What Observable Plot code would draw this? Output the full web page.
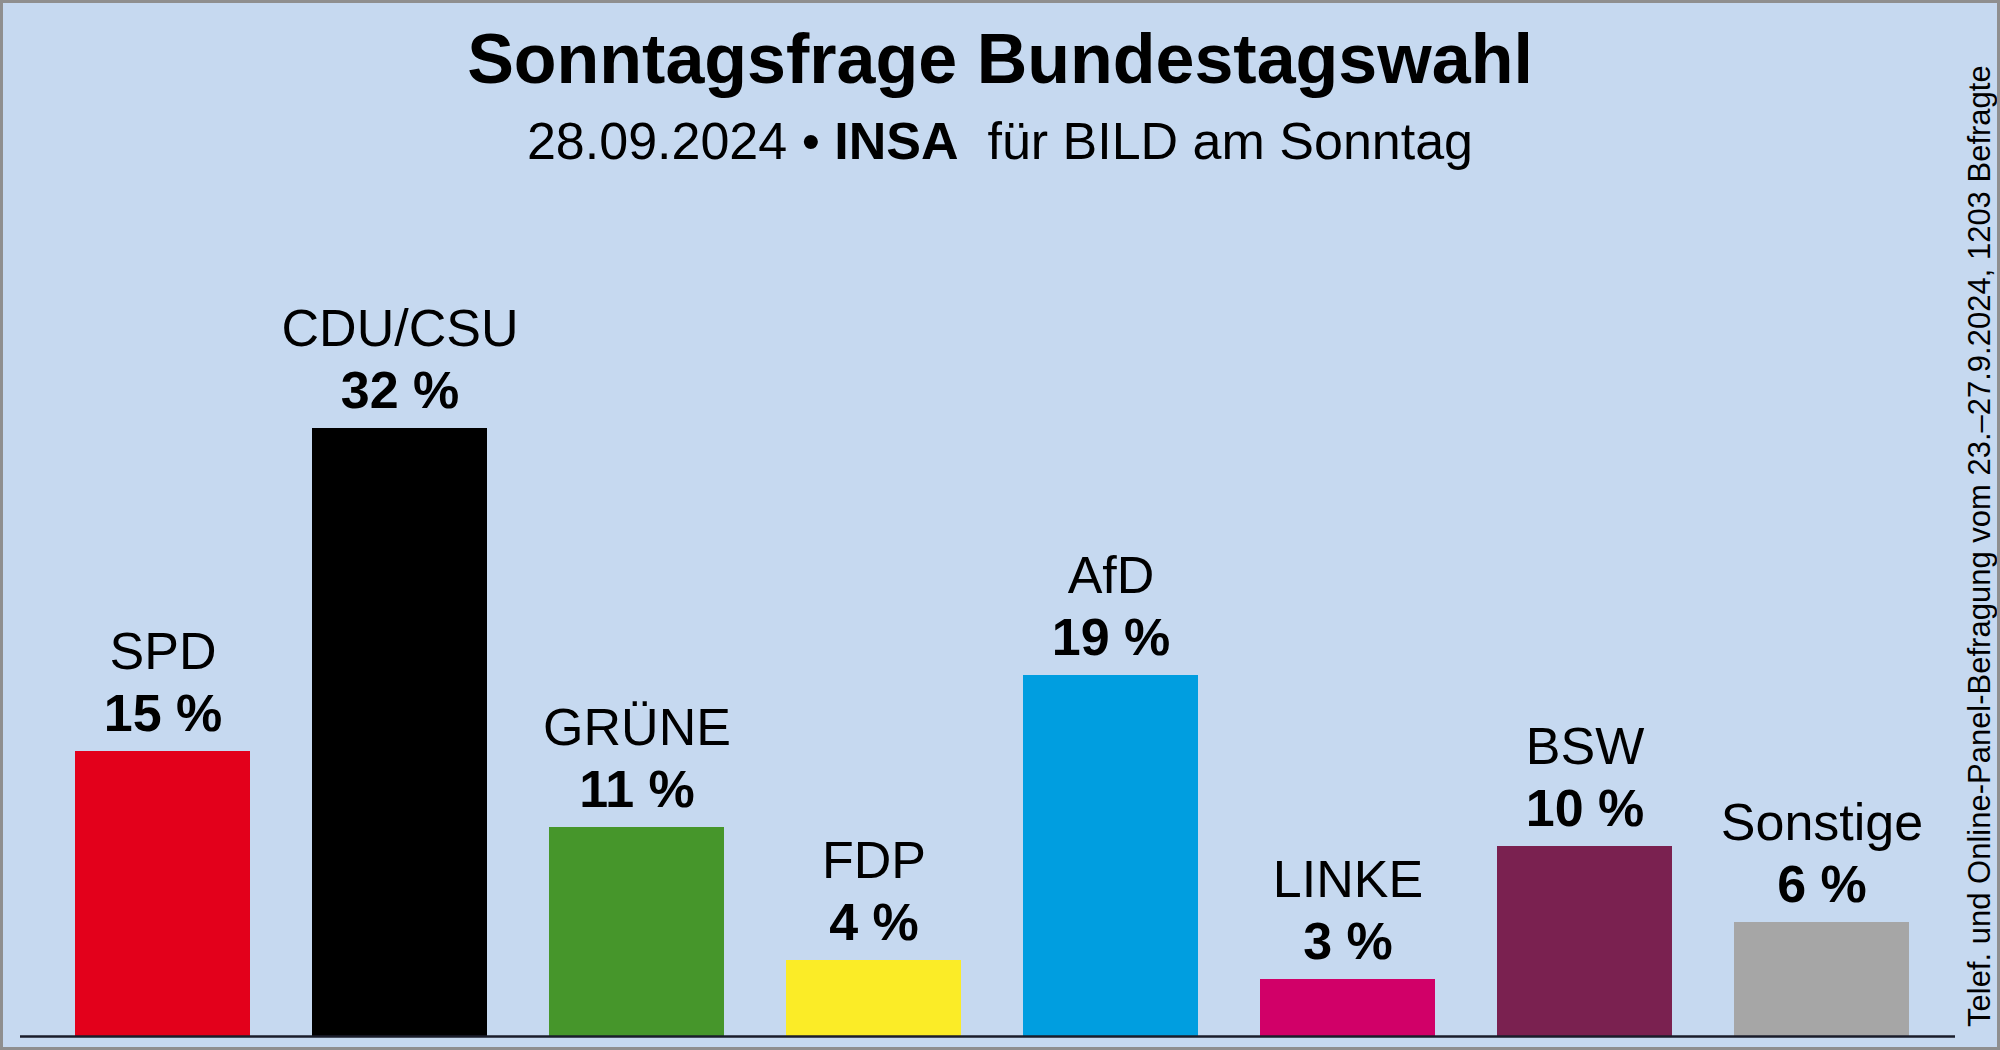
<!DOCTYPE html>
<html>
<head>
<meta charset="utf-8">
<script src="https://cdn.jsdelivr.net/npm/d3@7"></script>
<script src="https://cdn.jsdelivr.net/npm/@observablehq/plot@0.6"></script>
<style>
  html, body { margin: 0; padding: 0; background: #c6d9f0; }
  #page { position: relative; width: 2000px; height: 1050px; background: #c6d9f0; overflow: hidden;
          font-family: "Liberation Sans", Arial, sans-serif; color: #000; }
  #frame { position: absolute; left: 0; top: 0; width: 2000px; height: 1050px; box-sizing: border-box;
           border: 3px solid #8f8f8f; pointer-events: none; }
  #title { position: absolute; left: 0; width: 2000px; top: 24px; text-align: center;
           font-size: 70px; line-height: 70px; font-weight: bold; white-space: nowrap; }
  #subtitle { position: absolute; left: 0; width: 2000px; top: 115px; text-align: center;
              font-size: 52px; line-height: 52px; white-space: pre; }
  #note { position: absolute; left: 1964px; top: 1027px; transform: rotate(-90deg); transform-origin: 0 0;
          font-size: 31px; line-height: 31px; white-space: nowrap; }
  #chart { position: absolute; left: 0; top: 175px; }
</style>
</head>
<body>
<div id="page">
  <div id="title">Sonntagsfrage Bundestagswahl</div>
  <div id="subtitle">28.09.2024 • <b>INSA</b>  für BILD am Sonntag</div>
  <div id="note">Telef. und Online-Panel-Befragung vom 23.–27.9.2024, 1203 Befragte</div>
  <div id="chart"></div>
  <div id="frame"></div>
</div>
<script>
const parties = ["SPD", "CDU/CSU", "GRÜNE", "FDP", "AfD", "LINKE", "BSW", "Sonstige"];
const values = [15, 32, 11, 4, 19, 3, 10, 6];
const colors = ["#e3001b", "#000000", "#46962b", "#fbec27", "#009ee0", "#d10068", "#7a2150", "#a6a6a6"];

const data = parties.map((p, i) => ({party: p, value: values[i]}));

const chart = Plot.plot({
  width: 2000,
  height: 875,
  marginLeft: 20,
  marginRight: 45,
  marginTop: 101,
  marginBottom: 14,
  style: {background: "transparent", fontFamily: "'Liberation Sans', Arial, sans-serif", overflow: "visible"},
  x: {type: "band", domain: parties, paddingInner: 0.262, paddingOuter: 0.2108, align: 0.54, axis: null},
  y: {domain: [0, 40], axis: null},
  color: {domain: parties, range: colors},
  marks: [
    Plot.barY(data, {x: "party", y: "value", fill: "party"}),
    Plot.ruleY([0], {stroke: "#1a1d2b", strokeWidth: 2.5}),
    Plot.text(data, {x: "party", y: "value", text: d => `${d.value} %`, lineAnchor: "bottom", dy: -21,
                     fontSize: 52, fontWeight: "bold", fill: "#000"}),
    Plot.text(data, {x: "party", y: "value", text: "party", lineAnchor: "bottom", dy: -83,
                     fontSize: 52, fill: "#000"})
  ]
});
document.getElementById("chart").appendChild(chart);
</script>
</body>
</html>
